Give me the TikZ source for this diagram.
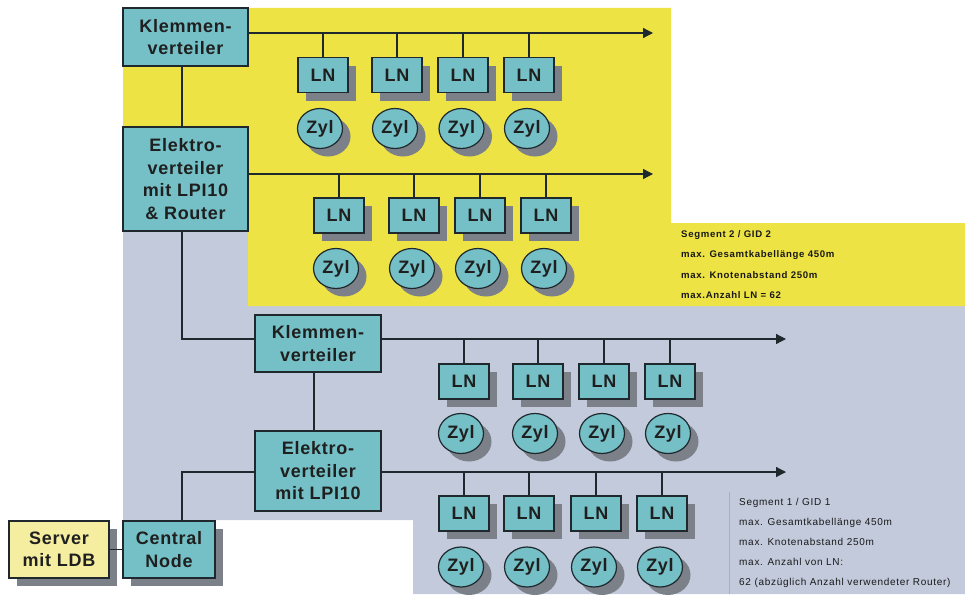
\documentclass[tikz,border=0pt]{standalone}
\usepackage{fontspec}
\setmainfont{Liberation Sans}
\newfontfamily\boxfont[LetterSpace=4]{Liberation Sans}
\newfontfamily\notefont[LetterSpace=7]{Liberation Sans}
\usepackage{xcolor}
\usepackage{tikz}
\usetikzlibrary{arrows.meta, shapes.geometric, shadows, calc}

\definecolor{nodeteal}{RGB}{116,192,198}
\definecolor{segyellow}{RGB}{238,227,69}
\definecolor{seggray}{RGB}{194,202,220}
\definecolor{shadowgray}{RGB}{124,129,137}
\definecolor{serveryellow}{RGB}{245,238,160}
\definecolor{linedark}{RGB}{30,40,45}
\definecolor{notepipe}{RGB}{168,176,192}

\tikzset{
  nodeshadow/.style={
    drop shadow={fill=shadowgray, opacity=1, shadow xshift=8pt, shadow yshift=-8pt}
  },
  distbox/.style={
    draw=linedark, line width=1.4pt, fill=nodeteal, align=center, inner sep=0pt,
    font=\boxfont\bfseries\fontsize{18}{22.5}\selectfont, text=black!88
  },
  lnbox/.style={
    draw=linedark, line width=1.4pt, fill=nodeteal, inner sep=0pt,
    minimum width=50pt, minimum height=35pt, nodeshadow,
    font=\boxfont\bfseries\fontsize{18}{22}\selectfont, text=black!88
  },
  zylnode/.style={
    ellipse, draw=linedark, line width=1.2pt, fill=nodeteal, inner sep=0pt,
    minimum width=45pt, minimum height=40pt, nodeshadow,
    font=\boxfont\bfseries\fontsize{18}{22}\selectfont, text=black!88
  },
  busline/.style={
    draw=linedark, line width=1.3pt, -{Triangle[length=10pt, width=10pt]}
  },
  tapline/.style={draw=linedark, line width=1.3pt},
  segnote/.style={
    anchor=north west, inner sep=0pt, align=left, text=black!90
  },
}

\begin{document}
\begin{tikzpicture}[x=1pt, y=-1pt]
  \useasboundingbox (0,0) rectangle (965,594);

  % === Segment areas ===
  \fill[seggray] (123,231) -- (965,231) -- (965,594) -- (413,594)
    -- (413,520) -- (123,520) -- cycle;
  \fill[segyellow] (123,8) -- (671,8) -- (671,223) -- (965,223)
    -- (965,306) -- (248,306) -- (248,231) -- (123,231) -- cycle;
  \draw[notepipe, line width=0.8pt] (729,492) -- (729,594);

  % === Distributors ===
  \node[distbox, minimum width=125pt, minimum height=58pt] (klemm1) at (185.5,37)
    {Klemmen-\\verteiler};
  \node[distbox, minimum width=125pt, minimum height=104pt] (elek1) at (185.5,179)
    {Elektro-\\verteiler\\mit LPI10\\\& Router};
  \node[distbox, minimum width=126pt, minimum height=57pt] (klemm2) at (318,343.5)
    {Klemmen-\\verteiler};
  \node[distbox, minimum width=126pt, minimum height=80pt] (elek2) at (318,471)
    {Elektro-\\verteiler\\mit LPI10};
  \node[distbox, nodeshadow, minimum width=92pt, minimum height=57pt] (central) at (169,549.5)
    {Central\\Node};
  \node[distbox, nodeshadow, fill=serveryellow, minimum width=100pt, minimum height=57pt] (server) at (59,549.5)
    {Server\\mit LDB};

  % === Bus ends ===
  \coordinate (trunk) at (182,0);
  \coordinate (bus1) at (653,33);
  \coordinate (bus2) at (653,174);
  \coordinate (bus3) at (786,339);
  \coordinate (bus4) at (786,472);

  % === Backbone ===
  \draw[tapline] (klemm1.south -| trunk) -- (elek1.north -| trunk);
  \draw[tapline] (elek1.south -| trunk) |- (klemm2.west |- bus3);
  \draw[tapline] ([xshift=-4pt]klemm2.south) -- ([xshift=-4pt]elek2.north);
  \draw[tapline] (central.north -| trunk) |- (elek2.west |- bus4);
  \draw[tapline] (server.east) -- (central.west);

  \draw[busline] (klemm1.east |- bus1) -- (bus1);
  \draw[busline] (elek1.east |- bus2) -- (bus2);
  \draw[busline] (klemm2.east |- bus3) -- (bus3);
  \draw[busline] (elek2.east |- bus4) -- (bus4);

  % === Segment 2, line 1 ===
  \node[lnbox] (ln11) at (323,75) {LN};
  \node[lnbox] (ln12) at (397,75) {LN};
  \node[lnbox] (ln13) at (463,75) {LN};
  \node[lnbox] (ln14) at (529,75) {LN};
  \node[zylnode] (zyl11) at (320,128.5) {Zyl};
  \node[zylnode] (zyl12) at (395,128.5) {Zyl};
  \node[zylnode] (zyl13) at (461.5,128.5) {Zyl};
  \node[zylnode] (zyl14) at (527,128.5) {Zyl};
  \draw[tapline] (ln11.north |- bus1) -- (ln11.north);
  \draw[tapline] (ln12.north |- bus1) -- (ln12.north);
  \draw[tapline] (ln13.north |- bus1) -- (ln13.north);
  \draw[tapline] (ln14.north |- bus1) -- (ln14.north);

  % === Segment 2, line 2 ===
  \node[lnbox] (ln21) at (339,215.5) {LN};
  \node[lnbox] (ln22) at (414,215.5) {LN};
  \node[lnbox] (ln23) at (480,215.5) {LN};
  \node[lnbox] (ln24) at (546,215.5) {LN};
  \node[zylnode] (zyl21) at (336,268.5) {Zyl};
  \node[zylnode] (zyl22) at (412,268.5) {Zyl};
  \node[zylnode] (zyl23) at (478,268.5) {Zyl};
  \node[zylnode] (zyl24) at (544,268.5) {Zyl};
  \draw[tapline] (ln21.north |- bus2) -- (ln21.north);
  \draw[tapline] (ln22.north |- bus2) -- (ln22.north);
  \draw[tapline] (ln23.north |- bus2) -- (ln23.north);
  \draw[tapline] (ln24.north |- bus2) -- (ln24.north);

  % === Segment 1, line 1 ===
  \node[lnbox] (ln31) at (464,381.5) {LN};
  \node[lnbox] (ln32) at (538,381.5) {LN};
  \node[lnbox] (ln33) at (604,381.5) {LN};
  \node[lnbox] (ln34) at (670,381.5) {LN};
  \node[zylnode] (zyl31) at (461,433.5) {Zyl};
  \node[zylnode] (zyl32) at (535,433.5) {Zyl};
  \node[zylnode] (zyl33) at (602,433.5) {Zyl};
  \node[zylnode] (zyl34) at (668,433.5) {Zyl};
  \draw[tapline] (ln31.north |- bus3) -- (ln31.north);
  \draw[tapline] (ln32.north |- bus3) -- (ln32.north);
  \draw[tapline] (ln33.north |- bus3) -- (ln33.north);
  \draw[tapline] (ln34.north |- bus3) -- (ln34.north);

  % === Segment 1, line 2 ===
  \node[lnbox] (ln41) at (464,513.5) {LN};
  \node[lnbox] (ln42) at (529,513.5) {LN};
  \node[lnbox] (ln43) at (596,513.5) {LN};
  \node[lnbox] (ln44) at (662,513.5) {LN};
  \node[zylnode] (zyl41) at (461,567) {Zyl};
  \node[zylnode] (zyl42) at (527,567) {Zyl};
  \node[zylnode] (zyl43) at (594,567) {Zyl};
  \node[zylnode] (zyl44) at (660,567) {Zyl};
  \draw[tapline] (ln41.north |- bus4) -- (ln41.north);
  \draw[tapline] (ln42.north |- bus4) -- (ln42.north);
  \draw[tapline] (ln43.north |- bus4) -- (ln43.north);
  \draw[tapline] (ln44.north |- bus4) -- (ln44.north);

  % === Segment notes ===
  \node[segnote, font=\notefont\bfseries\fontsize{9.6}{20.5}\selectfont] (note2) at (681,230)
    {Segment 2 / GID 2\\max. Gesamtkabellänge 450m\\max. Knotenabstand 250m\\max.Anzahl LN = 62};
  \node[segnote, font=\notefont\fontsize{10}{20}\selectfont] (note1) at (739,498)
    {Segment 1 / GID 1\\max. Gesamtkabellänge 450m\\max. Knotenabstand 250m\\max. Anzahl von LN:\\62 (abzüglich Anzahl verwendeter Router)};

\end{tikzpicture}
\end{document}
